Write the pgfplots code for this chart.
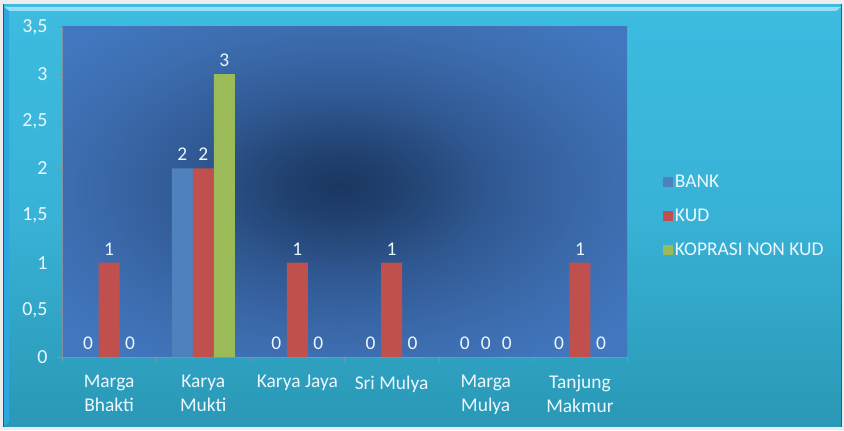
\documentclass[border=0pt]{standalone}
\usepackage{pgfplots}
\pgfplotsset{compat=1.18}
\usepackage{fontspec}
\setmainfont{Carlito}
\definecolor{bankc}{HTML}{4F81BD}
\definecolor{kudc}{HTML}{C0504D}
\definecolor{nonc}{HTML}{9BBB59}
\definecolor{cyantop}{HTML}{3CBCE0}
\definecolor{cyanmid}{HTML}{38B2D6}
\definecolor{cyanbot}{HTML}{2A98B6}
\definecolor{plotout}{HTML}{4276BE}
\definecolor{plotin}{HTML}{1B3761}
\definecolor{axisgray}{HTML}{7F93A6}
\pgfdeclareradialshading{plotrad}{\pgfpoint{-0.4bp}{1bp}}{%
  color(0bp)=(plotin); color(5bp)=(plotin!85!plotout); color(14bp)=(plotin!45!plotout); color(24bp)=(plotout!92!black); color(32bp)=(plotout); color(50bp)=(plotout)}
\begin{document}
\begin{tikzpicture}[x=1bp,y=1bp]
% chart background
\fill[color=white!85!gray] (0,0) rectangle (844,430);
\fill[color=gray!60!black] (3,3) rectangle (842,426);
\shade[top color=cyantop, bottom color=cyanbot, middle color=cyanmid] (4,4) rectangle (841,425);
\fill[color=cyan!40!white] (4,423) -- (841,423) -- (836,419) -- (9,419) -- cycle;
\fill[color=cyan!50!cyantop] (4,423) -- (9,419) -- (9,9) -- (4,4) -- cycle;
% plot area
\shade[shading=plotrad] (62,73) rectangle (627,403);
\begin{axis}[
  at={(62bp,73bp)}, anchor=south west,
  scale only axis, width=565bp, height=330bp,
  ybar=0pt, bar width=21bp,
  xmin=-0.5, xmax=5.5, ymin=0, ymax=3.5,
  /pgf/number format/assume math mode=true,
  xtick={0,1,2,3,4,5},
  xticklabels={{Marga\\Bhakti},{Karya\\Mukti},{Karya Jaya},{Sri Mulya},{Marga\\Mulya},{Tanjung\\Makmur}},
  xticklabel style={align=center, text=white!92!cyan, font=\fontsize{19.5}{23.5}\selectfont, yshift=-10bp},
  major x tick style={draw=none},
  minor xtick={-0.5,0.5,1.5,2.5,3.5,4.5,5.5},
  minor tick length=5bp,
  minor x tick style={axisgray},
  ytick={0,0.5,...,3.5},
  yticklabel style={text=white!92!cyan, font=\fontsize{20}{22}\selectfont, xshift=-6bp, /pgf/number format/.cd, use comma, fixed, assume math mode=true},
  major tick length=5bp,
  tick align=outside,
  y tick style={axisgray},
  axis x line*=bottom, axis y line*=left,
  axis line style={axisgray, line width=0.8pt},
  x axis line style={-}, y axis line style={-},
  nodes near coords,
  every node near coord/.append style={text=white!92!cyan, font=\fontsize{19.5}{22}\selectfont, yshift=4bp},
  legend style={at={(1.058,0.427)}, anchor=west, draw=none, fill=none,
    text=white!92!cyan, font=\fontsize{19.5}{22}\selectfont, row sep=16bp},
  legend cell align=left,
  legend image code/.code={\fill[#1] (0bp,-5bp) rectangle (10bp,5bp);},
]
\addplot[fill=bankc, draw=none] coordinates {(0,0) (1,2) (2,0) (3,0) (4,0) (5,0)};
\addplot[fill=kudc, draw=none] coordinates {(0,1) (1,2) (2,1) (3,1) (4,0) (5,1)};
\addplot[fill=nonc, draw=none] coordinates {(0,0) (1,3) (2,0) (3,0) (4,0) (5,0)};
\legend{BANK, KUD, KOPRASI NON KUD}
\end{axis}
\end{tikzpicture}
\end{document}
